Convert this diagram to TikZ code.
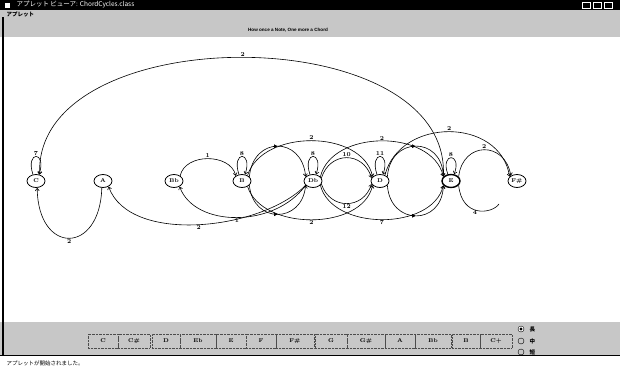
\documentclass[tikz,border=0pt]{standalone}
\usepackage{fontspec}
\newfontfamily\jp{Noto Sans CJK JP}
\newfontfamily\hdrfont{Liberation Sans}
\usetikzlibrary{shapes.geometric,arrows.meta,decorations.markings}
\tikzset{
  st/.style={ellipse, draw, line width=0.8pt, minimum width=18pt, minimum height=13pt, inner sep=0pt, fill=white, font=\fontsize{5.5}{5.5}\selectfont\bfseries},
  ed/.style={line width=0.6pt},
  arr/.style={ed, -{Straight Barb[length=2.5pt,width=4pt]}},
  lb/.style={font=\fontsize{6}{6}\selectfont\bfseries, inner sep=0.6pt},
  midarr/.style={postaction={decorate}, decoration={markings, mark=at position 0.5 with {\arrow{Triangle[length=3.5pt,width=3.5pt]}}}},
  btn/.style={draw=black!70, densely dotted, minimum height=14pt, inner sep=0pt, font=\fontsize{5.5}{5.5}\selectfont\bfseries},
  jpt/.style={font=\jp\fontsize{5.5}{5.5}\selectfont},
  rad/.style={circle, draw, minimum size=6pt, inner sep=0pt}
}
\begin{document}
\begin{tikzpicture}[x=1pt,y=-1pt]
\useasboundingbox (0,0) rectangle (620,370);
% window chrome
\fill[white] (0,0) rectangle (620,370);
\fill[black!22] (0,10) rectangle (620,37);
\fill[white] (4,37) rectangle (620,322);
\fill[black!22] (0,322) rectangle (620,355);
\fill[black] (0,0) rectangle (620,10);
\draw[line width=1.5pt] (3,17) -- (3,355);
\draw[line width=0.8pt] (0,355) -- (620,355);
\node[rectangle, fill=white, minimum size=5pt, inner sep=0pt] (icon) at (7,5) {};
\node[anchor=west, text=white, font=\jp\fontsize{6.5}{6.5}\selectfont] (ttl) at (13,5) {アプレット ビューア: ChordCycles.class};
\node[draw=white, minimum width=8pt, minimum height=6pt, inner sep=0pt] (w1) at (586,5) {};
\node[draw=white, minimum width=8pt, minimum height=6pt, inner sep=0pt] (w2) at (597,5) {};
\node[draw=white, minimum width=8pt, minimum height=6pt, inner sep=0pt] (w3) at (608,5) {};
\node[anchor=west, font=\jp\bfseries\fontsize{5.5}{5.5}\selectfont] (menu) at (3,14) {アプレット};
\node[font=\hdrfont\bfseries\fontsize{4.6}{4.6}\selectfont] (hdr) at (288,30) {How once a Note, One more a Chord};
% states
\node[st] (nC)  at (36,181) {C};
\node[st] (nA)  at (103,181) {A};
\node[st] (nBb) at (174,181) {Bb};
\node[st] (nB)  at (242,181) {B};
\node[st] (nDb) at (313,181) {Db};
\node[st] (nD)  at (380,181) {D};
\node[st, line width=1.4pt] (nE)  at (451,181) {E};
\node[st] (nFs) at (517,181) {F\#};
\coordinate (fsEnd) at (499,204);
% edges
\draw[arr] (nE.150) .. controls (452,18) and (34,18) .. (nC.60) node[lb,pos=.5,above]{2};
\draw[arr] (nA.-100) .. controls (100,255) and (38,255) .. (nC.-80) node[lb,pos=.5,below]{2};
\draw[arr] (nDb.-150) .. controls (262,230) and (130,245) .. (nA.-45) node[lb,pos=.5,below]{2};
\draw[arr] (nDb.-150) .. controls (275,228) and (195,228) .. (nBb.-45) node[lb,pos=.5,below]{1};
\draw[arr] (nBb.40) .. controls (185,153) and (230,153) .. (nB.140) node[lb,pos=.5,above]{1};
\draw[arr,midarr] (nB.30) .. controls (253,136) and (302,136) .. (nDb.150);
\draw[arr,midarr] (nB.-30) .. controls (253,224) and (302,224) .. (nDb.-150);
\draw[arr] (nB.45) .. controls (262,129) and (362,129) .. (nD.150) node[lb,pos=.5,above]{2};
\draw[arr] (nDb.30) .. controls (332,129) and (432,129) .. (nE.150) node[lb,pos=.5,above]{2};
\draw[arr] (nB.-45) .. controls (262,231) and (362,231) .. (nD.-150) node[lb,pos=.5,below]{2};
\draw[arr] (nDb.-30) .. controls (332,231) and (432,231) .. (nE.-150) node[lb,pos=.5,below]{7};
\draw[arr] (nDb.20) .. controls (330,151) and (363,151) .. (nD.160) node[lb,pos=.5,above]{10};
\draw[arr] (nDb.-20) .. controls (330,210) and (363,210) .. (nD.-160) node[lb,pos=.5,below]{12};
\draw[arr,midarr] (nD.30) .. controls (390,136) and (442,136) .. (nE.150);
\draw[arr,midarr] (nD.-30) .. controls (390,226) and (442,226) .. (nE.-150);
\draw[arr] (nD.50) .. controls (400,117) and (500,117) .. (nFs.150) node[lb,pos=.5,above]{2};
\draw[arr] (nE.30) .. controls (463,141) and (505,141) .. (nFs.140) node[lb,pos=.5,above]{2};
\draw[ed] (nE.-30) .. controls (462,218) and (492,214) .. (fsEnd) node[lb,pos=.45,below]{4};
% self loops
\draw[arr] (nC.115) .. controls +(-8,-24) and +(8,-24) .. (nC.65) node[lb,pos=.5,above]{7};
\draw[arr] (nB.115) .. controls +(-8,-24) and +(8,-24) .. (nB.65) node[lb,pos=.5,above]{8};
\draw[arr] (nDb.115) .. controls +(-8,-24) and +(8,-24) .. (nDb.65) node[lb,pos=.5,above]{8};
\draw[arr] (nD.115) .. controls +(-8,-24) and +(8,-24) .. (nD.65) node[lb,pos=.5,above]{11};
\draw[arr] (nE.115) .. controls +(-8,-22) and +(8,-22) .. (nE.65) node[lb,pos=.5,above]{8};
% buttons
\node[btn, minimum width=30pt] (b1) at (103,341) {C};
\node[btn, minimum width=32pt] (b2) at (134,341) {C\#};
\node[btn, minimum width=28pt] (b3) at (166,341) {D};
\node[btn, minimum width=36pt] (b4) at (198,341) {Eb};
\node[btn, minimum width=30pt] (b5) at (231,341) {E};
\node[btn, minimum width=30pt] (b6) at (261,341) {F};
\node[btn, minimum width=38pt] (b7) at (295,341) {F\#};
\node[btn, minimum width=32pt] (b8) at (331,341) {G};
\node[btn, minimum width=38pt] (b9) at (366,341) {G\#};
\node[btn, minimum width=30pt] (b10) at (400,341) {A};
\node[btn, minimum width=36pt] (b11) at (433,341) {Bb};
\node[btn, minimum width=28pt] (b12) at (466,341) {B};
\node[btn, minimum width=32pt] (b13) at (496,341) {C+};
% radio buttons
\node[rad, fill=white] (r1) at (521,329) {};
\fill[black] (r1.center) circle (1.6pt);
\node[rad] (r2) at (521,341) {};
\node[rad] (r3) at (521,352) {};
\node[anchor=west, font=\jp\bfseries\fontsize{5.5}{5.5}\selectfont] (l1) at (526,329) {長};
\node[anchor=west, font=\jp\bfseries\fontsize{5.5}{5.5}\selectfont] (l2) at (526,341) {中};
\node[anchor=west, font=\jp\bfseries\fontsize{5.5}{5.5}\selectfont] (l3) at (526,352) {短};
% status bar
\node[anchor=west, jpt] (status) at (3,363) {アプレットが開始されました。};
\end{tikzpicture}
\end{document}
